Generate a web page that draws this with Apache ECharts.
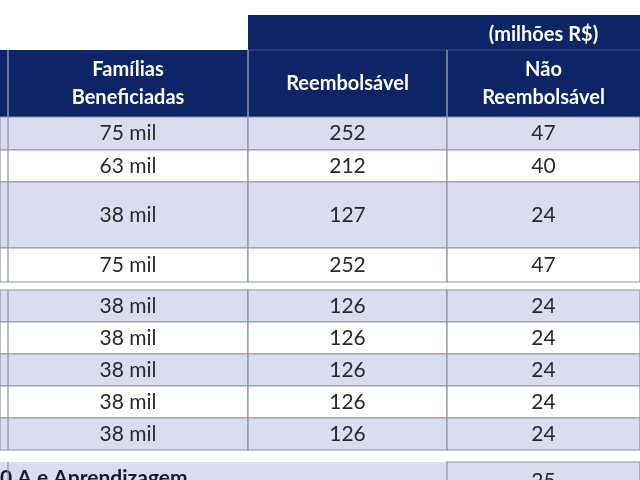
<!DOCTYPE html><html><head><meta charset="utf-8">
<script src="https://cdn.jsdelivr.net/npm/echarts@6/dist/echarts.min.js"></script>
<style>html,body{margin:0;padding:0;background:#fff}#c{width:640px;height:480px}</style></head><body><div id="c"></div>
<script>
const headerUnit = '(milhões R$)';
const columns = ['Famílias\nBeneficiadas', 'Reembolsável', 'Não\nReembolsável'];
const familias = ['75 mil','63 mil','38 mil','75 mil','38 mil','38 mil','38 mil','38 mil','38 mil',''];
const reembolsavel = ['252','212','127','252','126','126','126','126','126',''];
const naoReembolsavel = ['47','40','24','47','24','24','24','24','24','25'];
const lastRowLabel = '0 A e Aprendizagem';

// layout (pixel-unit axis positions)
const colEdges = [8, 248, 447, 640];
const rowEdges = [[117,150],[150,182],[182,248],[248,282],[290,322],[322,354],[354,386],[386,418],[418,450],[462,500]];
const navy = '#0d2466', band = '#d8def0', line = '#8d93a3', ink = '#2a2a2a';
const font = 'Lato, "Open Sans", sans-serif';

const cells = [];
familias.forEach((v,i)=>{cells.push([i,0,v]);cells.push([i,1,reembolsavel[i]]);cells.push([i,2,naoReembolsavel[i]]);});

function renderCell(params, api){
  const r = api.value(0), c = api.value(1), txt = cells[params.dataIndex][2];
  const [y0,y1] = rowEdges[r];
  const p0 = api.coord([c===0?0:colEdges[c], y0]), p1 = api.coord([colEdges[c+1], y1]);
  const shaded = [0,2,4,6,8,9].includes(r);
  const children = [{type:'rect',shape:{x:p0[0],y:p0[1],width:p1[0]-p0[0],height:p1[1]-p0[1]},
    style:{fill:shaded?band:'#fff',stroke:line,lineWidth:1.2}}];
  if (r===9 && c<2) { children[0].style.stroke=null; }
  children.push({type:'text',x:(api.coord([colEdges[c],0])[0]+p1[0])/2,y:(p0[1]+p1[1])/2,
    style:{text:txt,fill:ink,font:'21px '+font,align:'center',verticalAlign:'middle'}});
  if (r===9 && c===0) children.push({type:'text',x:p0[0],y:p0[1]+16,style:{text:lastRowLabel,fill:'#1a1a2a',font:'bold 21px '+font,align:'left',verticalAlign:'middle'}});
  if (c===0) { const a=api.coord([colEdges[0],y0]); children.push({type:'line',shape:{x1:a[0],y1:p0[1],x2:a[0],y2:p1[1]},style:{stroke:line,lineWidth:1.2}}); }
  return {type:'group',children};
}

function renderHeader(params, api){
  const g = [];
  const t0 = api.coord([colEdges[1],15]), t1 = api.coord([640,50]);
  g.push({type:'rect',shape:{x:t0[0],y:t0[1],width:t1[0]-t0[0],height:t1[1]-t0[1]},style:{fill:navy}});
  const h0 = api.coord([0,50]), h1 = api.coord([640,117]);
  g.push({type:'rect',shape:{x:h0[0],y:h0[1],width:h1[0]-h0[0],height:h1[1]-h0[1]},style:{fill:navy}});
  g.push({type:'line',shape:{x1:t0[0],y1:h0[1],x2:t1[0],y2:h0[1]},style:{stroke:'#3a4f86',lineWidth:1}});
  g.push({type:'text',x:api.coord([(colEdges[2]+colEdges[3])/2,0])[0],y:api.coord([0,35])[1],style:{text:headerUnit,fill:'#fff',font:'bold 20px '+font,align:'center',verticalAlign:'middle'}});
  colEdges.forEach((e,i)=>{ if(i<3){const x=api.coord([e,0])[0];g.push({type:'line',shape:{x1:x,y1:h0[1],x2:x,y2:h1[1]},style:{stroke:'#c8cde0',lineWidth:1}});}});
  columns.forEach((t,i)=>g.push({type:'text',x:api.coord([(colEdges[i]+colEdges[i+1])/2,0])[0],y:api.coord([0,84])[1],
    style:{text:t,fill:'#fff',font:'bold 20px '+font,lineHeight:28,align:'center',verticalAlign:'middle'}}));
  return {type:'group',children:g};
}

const chart = echarts.init(document.getElementById('c'));
chart.setOption({
  animation:false,
  grid:{left:0,right:0,top:0,bottom:0},
  xAxis:{type:'value',min:0,max:640,show:false},
  yAxis:{type:'value',min:0,max:480,inverse:true,show:false},
  series:[
    {type:'custom',coordinateSystem:'cartesian2d',data:[[0,0]],renderItem:renderHeader,silent:true},
    {type:'custom',coordinateSystem:'cartesian2d',data:cells.map(c=>[c[0],c[1]]),renderItem:renderCell,silent:true}
  ]
});
</script></body></html>
